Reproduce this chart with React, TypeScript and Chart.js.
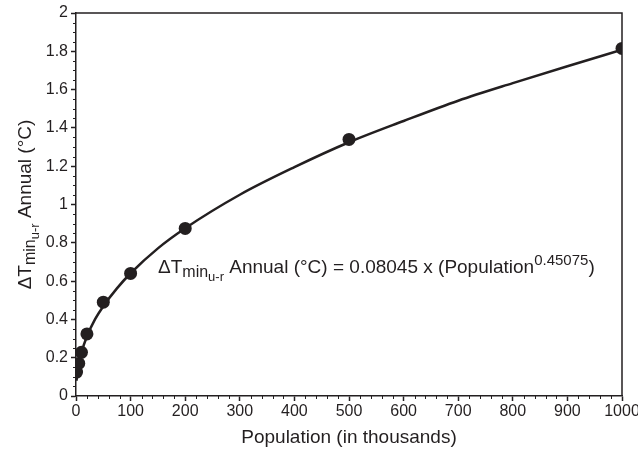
import React, { useEffect, useRef } from "react";
import { Chart, registerables } from "chart.js";

Chart.register(...registerables);

// Observed data points (population in thousands, ΔT in °C)
const populations = [1, 5, 10, 20, 50, 100, 200, 500, 1000];
const deltaT = [0.125, 0.17, 0.228, 0.324, 0.49, 0.64, 0.875, 1.34, 1.815];

// Fitted curve
const curveX = [1, 2, 5, 10, 20, 35, 50, 75, 100, 150, 200, 300, 400, 500, 600, 700, 800, 900, 1000];
const curveY = [0.08, 0.11, 0.166, 0.228, 0.311, 0.401, 0.469, 0.562, 0.641, 0.771, 0.876, 1.051, 1.195, 1.325, 1.436, 1.542, 1.634, 1.722, 1.808];

const xTicks = [0, 100, 200, 300, 400, 500, 600, 700, 800, 900, 1000];
const yTicks = [0, 0.2, 0.4, 0.6, 0.8, 1, 1.2, 1.4, 1.6, 1.8, 2];

const INK = "#231f20";
const FONT = "'Liberation Sans', Arial, sans-serif";

type Part = { t: string; size: number; dy: number };

function drawParts(ctx: CanvasRenderingContext2D, parts: Part[], x: number, y: number, align: "left" | "center") {
  let total = 0;
  for (const p of parts) {
    ctx.font = `${p.size}px ${FONT}`;
    total += ctx.measureText(p.t).width;
  }
  let cx = align === "center" ? x - total / 2 : x;
  for (const p of parts) {
    ctx.font = `${p.size}px ${FONT}`;
    ctx.fillText(p.t, cx, y + p.dy);
    cx += ctx.measureText(p.t).width;
  }
}

const decorPlugin = {
  id: "decor",
  afterDraw(chart: any) {
    const { ctx, chartArea } = chart;
    const xs = chart.scales.x;
    const ys = chart.scales.y;
    ctx.save();
    ctx.strokeStyle = INK;
    ctx.lineWidth = 1.5;
    // frame top & right
    ctx.beginPath();
    ctx.moveTo(chartArea.left, chartArea.top);
    ctx.lineTo(chartArea.right, chartArea.top);
    ctx.lineTo(chartArea.right, chartArea.bottom);
    ctx.stroke();
    // minor ticks
    ctx.lineWidth = 1;
    ctx.beginPath();
    for (let v = 0; v <= 1000; v += 20) {
      if (v % 100 === 0) continue;
      const px = Math.round(xs.getPixelForValue(v)) + 0.5;
      ctx.moveTo(px, chartArea.bottom);
      ctx.lineTo(px, chartArea.bottom + 3);
    }
    for (let i = 0; i <= 40; i++) {
      if (i % 4 === 0) continue;
      const py = Math.round(ys.getPixelForValue(i * 0.05)) + 0.5;
      ctx.moveTo(chartArea.left, py);
      ctx.lineTo(chartArea.left - 3, py);
    }
    ctx.stroke();

    ctx.fillStyle = INK;
    ctx.textBaseline = "alphabetic";
    // y title with subscripts
    ctx.save();
    ctx.translate(31, (chartArea.top + chartArea.bottom) / 2);
    ctx.rotate(-Math.PI / 2);
    drawParts(
      ctx,
      [
        { t: "ΔT", size: 19, dy: 0 },
        { t: "min", size: 16, dy: 4 },
        { t: "u-r", size: 13, dy: 8 },
        { t: " Annual (°C)", size: 19, dy: 0 },
      ],
      0,
      0,
      "center"
    );
    ctx.restore();

    // equation annotation
    drawParts(
      ctx,
      [
        { t: "ΔT", size: 19, dy: 0 },
        { t: "min", size: 16, dy: 4 },
        { t: "u-r", size: 13, dy: 8 },
        { t: " Annual (°C) = 0.08045 x (Population", size: 19, dy: 0 },
        { t: "0.45075", size: 15, dy: -8 },
        { t: ")", size: 19, dy: 0 },
      ],
      158,
      273,
      "left"
    );
    ctx.restore();
  },
};

export default function App() {
  const ref = useRef<HTMLCanvasElement | null>(null);
  useEffect(() => {
    if (!ref.current) return;
    const chart = new Chart(ref.current, {
      type: "scatter",
      data: {
        datasets: [
          {
            label: "points",
            data: populations.map((p, i) => ({ x: p, y: deltaT[i] })),
            pointRadius: 6.5,
            pointBackgroundColor: INK,
            pointBorderColor: INK,
            pointBorderWidth: 0,
            showLine: false,
            order: 0,
          },
          {
            label: "fit",
            data: curveX.map((p, i) => ({ x: p, y: curveY[i] })),
            showLine: true,
            pointRadius: 0,
            borderColor: INK,
            borderWidth: 2.5,
            cubicInterpolationMode: "monotone",
            order: 1,
          },
        ],
      },
      options: {
        responsive: false,
        animation: false,
        devicePixelRatio: 1,
        layout: { padding: { top: 13, right: 16, left: 0, bottom: 0 } },
        plugins: { legend: { display: false }, tooltip: { enabled: false } },
        scales: {
          x: {
            type: "linear",
            min: 0,
            max: 1000,
            afterBuildTicks: (s: any) => {
              s.ticks = xTicks.map((v) => ({ value: v }));
            },
            afterFit: (s: any) => {
              s.height = 64;
              s.paddingLeft = 0;
              s.paddingRight = 0;
            },
            ticks: {
              color: INK,
              font: { family: FONT, size: 16 },
              padding: 1,
              maxRotation: 0,
              autoSkip: false,
              callback: (v: any) => String(v),
            },
            grid: { drawOnChartArea: false, drawTicks: true, tickLength: 5, tickColor: INK, tickWidth: 1.5 },
            border: { color: INK, width: 1.5 },
            title: {
              display: true,
              text: "Population (in thousands)",
              color: INK,
              font: { family: FONT, size: 19 },
              padding: { top: 0, bottom: 11 },
            },
          },
          y: {
            type: "linear",
            min: 0,
            max: 2,
            afterBuildTicks: (s: any) => {
              s.ticks = yTicks.map((v) => ({ value: v }));
            },
            afterFit: (s: any) => {
              s.width = 76;
              s.paddingTop = 0;
              s.paddingBottom = 0;
            },
            ticks: {
              color: INK,
              font: { family: FONT, size: 16 },
              padding: 3,
              callback: (v: any) => String(Math.round(Number(v) * 10) / 10),
            },
            grid: { drawOnChartArea: false, drawTicks: true, tickLength: 5, tickColor: INK, tickWidth: 1.5 },
            border: { color: INK, width: 1.5 },
          },
        },
      },
      plugins: [decorPlugin],
    } as any);
    return () => chart.destroy();
  }, []);
  return (
    <div style={{ position: "fixed", left: 0, top: 0, width: 638, height: 460, background: "#fff" }}>
      <canvas ref={ref} width={638} height={460} style={{ display: "block" }} />
    </div>
  );
}
